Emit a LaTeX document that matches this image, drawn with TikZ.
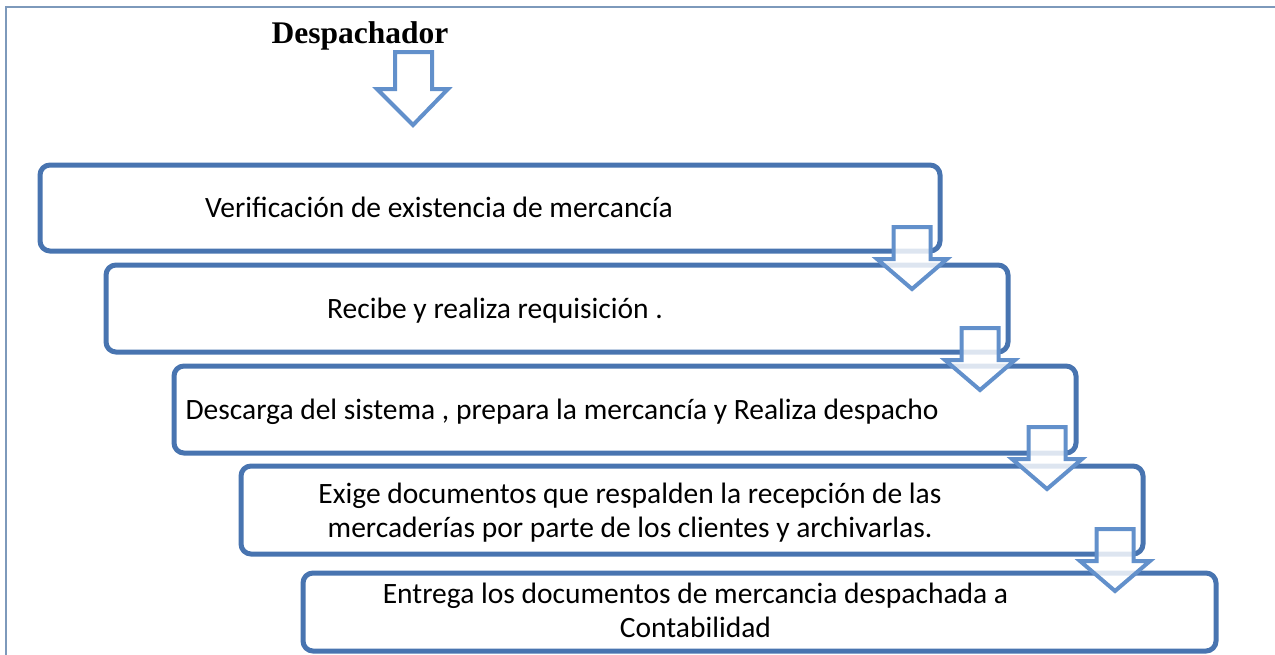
\documentclass[tikz,border=0pt]{standalone}
\usepackage{fontspec}
\setmainfont{Carlito}
\newfontfamily\tnr{Liberation Serif}
\definecolor{boxblue}{RGB}{72,116,176}
\definecolor{arrblue}{RGB}{98,144,203}
\definecolor{framecol}{RGB}{125,153,187}
\begin{document}
\begin{tikzpicture}[x=1pt,y=-1pt,
  stepbox/.style={draw=boxblue,line width=5pt,rounded corners=10pt},
  txt/.style={font=\fontsize{29.5}{34}\selectfont,align=center,inner sep=0pt,anchor=base},
  blk/.style={draw=arrblue,line width=4pt,fill=white,fill opacity=0.82,line join=miter}
]
\useasboundingbox (0,0) rectangle (1275,654);
% frame
\draw[framecol,line width=2.5pt] (6,660) -- (6,7) -- (1275,7);
% title
\node[font=\tnr\bfseries\fontsize{31.5}{36}\selectfont,anchor=base,inner sep=0pt] (title) at (360,43) {Despachador};
% boxes
\node[stepbox,minimum width=900pt,minimum height=86pt] (b1) at (490,208) {};
\node[stepbox,minimum width=902pt,minimum height=87pt] (b2) at (557,308.5) {};
\node[stepbox,minimum width=902pt,minimum height=87pt] (b3) at (625,409.5) {};
\node[stepbox,minimum width=902pt,minimum height=88pt] (b4) at (692,510) {};
\node[stepbox,minimum width=913pt,minimum height=78pt] (b5) at (759.5,612) {};
% texts
\node[txt] (t1) at (439,217) {Verificación de existencia de mercancía};
\node[txt] (t2) at (495,318) {Recibe y realiza requisición .};
\node[txt] (t3) at (562,419) {Descarga del sistema , prepara la mercancía y Realiza despacho};
\node[txt] (t4) at (630,537) {Exige documentos que respalden la recepción de las\\mercaderías por parte de los clientes y archivarlas.};
\node[txt] (t5) at (695.5,637) {Entrega los documentos de mercancia despachada a\\Contabilidad};
% top arrow
\draw[blk] (395,52) -- (432,52) -- (432,89) -- (448,89) -- (413,125) -- (377,89) -- (395,89) -- cycle;
% block arrows between steps
\newcommand{\blockarrow}[2]{%
  \draw[blk] (#1-18.5,#2) -- (#1+18.5,#2) -- (#1+18.5,#2+32) -- (#1+35,#2+32) -- (#1,#2+62) -- (#1-35,#2+32) -- (#1-18.5,#2+32) -- cycle;}
\blockarrow{912}{227}
\blockarrow{980}{328}
\blockarrow{1047}{427}
\blockarrow{1115}{529}
\end{tikzpicture}
\end{document}
